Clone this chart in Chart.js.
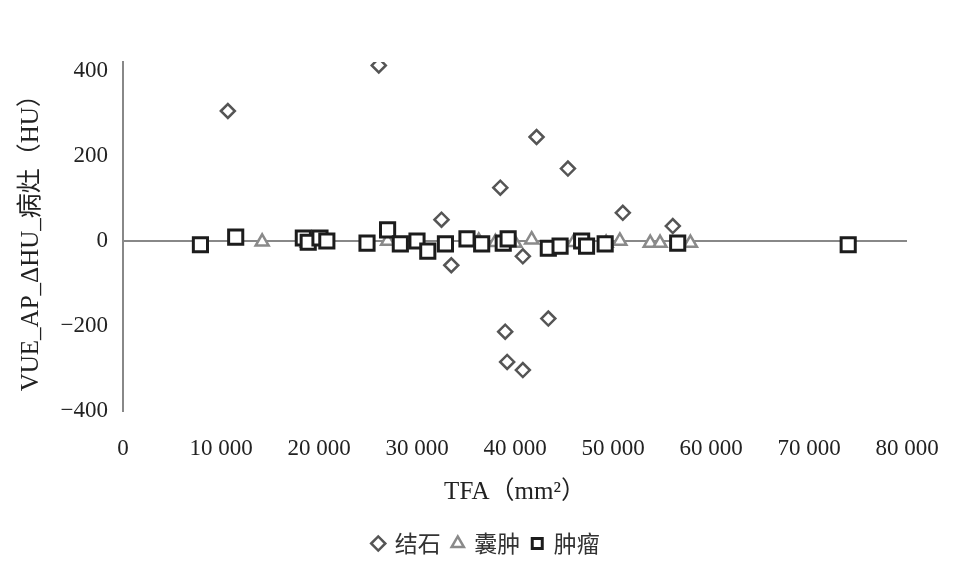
<!DOCTYPE html>
<html>
<head>
<meta charset="utf-8">
<script src="https://cdn.jsdelivr.net/npm/chart.js@4"></script>
<style>
  body { margin: 0; background: #fff; }
</style>
</head>
<body>
<canvas id="chart" width="969" height="581"></canvas>
<script>
// 结石
var stoneX = [10700, 26100, 42200, 45400, 38500, 32500, 33500, 39000, 43400, 39200, 40800, 40800, 51000, 56100];
var stoneY = [305, 412, 244, 170, 125, 50, -57, -213, -182, -284, -303, -36, 66, 35];
// 囊肿
var cystX = [14200, 18800, 27000, 36300, 38000, 40000, 41700, 46000, 49300, 50700, 53800, 54800, 57900];
var cystY = [-2, -5, 0, 0, -3, -5, 3, -3, -5, 0, -5, -5, -5];
// 肿瘤
var tumorX = [7900, 11500, 18400, 18900, 20100, 20800, 24900, 27000, 28300, 30000, 31100, 32900, 35100, 36600, 38800, 39300, 43400, 44600, 46800, 47300, 49200, 56600, 74000];
var tumorY = [-9, 9, 7, -3, 7, 0, -5, 26, -7, 0, -24, -7, 5, -7, -5, 5, -17, -12, 0, -12, -7, -5, -9];

var seriesNames = ['结石', '囊肿', '肿瘤'];
var xTicks = [0, 10000, 20000, 30000, 40000, 50000, 60000, 70000, 80000];
var yTicks = [-400, -200, 0, 200, 400];

function toPoints(xs, ys) {
    var pts = [];
    for (var i = 0; i < xs.length; i++) pts.push({x: xs[i], y: ys[i]});
    return pts;
}

var serif = '"Liberation Serif", "Noto Sans CJK SC", serif';

// legend sits a bit right of the padded area's centre in the original
var legendShift = {
    id: 'legendShift',
    afterLayout: function(chart) {
        chart.legend.left += 33;
        chart.legend.right += 33;
    }
};

var config = {
    type: 'scatter',
    data: {
        datasets: [
            {
                label: seriesNames[2],
                data: toPoints(tumorX, tumorY),
                pointStyle: 'rect',
                radius: 10,
                borderWidth: 3,
                borderColor: '#1c1c1c',
                backgroundColor: '#ffffff'
            },
            {
                label: seriesNames[1],
                data: toPoints(cystX, cystY),
                pointStyle: 'triangle',
                radius: 7.5,
                borderWidth: 2.5,
                borderColor: '#8a8a8a',
                backgroundColor: '#ffffff'
            },
            {
                label: seriesNames[0],
                data: toPoints(stoneX, stoneY),
                pointStyle: 'rectRot',
                radius: 7,
                borderWidth: 2.5,
                borderColor: '#555555',
                backgroundColor: '#ffffff'
            }
        ]
    },
    plugins: [legendShift],
    options: {
        responsive: false,
        animation: false,
        layout: {
            padding: {top: 62, right: 62, bottom: 16, left: 0}
        },
        plugins: {
            tooltip: {enabled: false},
            legend: {
                position: 'bottom',
                reverse: true,
                labels: {
                    usePointStyle: true,
                    boxWidth: 10,
                    boxHeight: 10,
                    color: '#333',
                    padding: 12,
                    font: {family: '"Noto Sans CJK SC", sans-serif', size: 23}
                }
            }
        },
        scales: {
            x: {
                type: 'linear',
                min: 0,
                max: 80000,
                border: {display: false},
                grid: {display: false, drawTicks: false},
                afterBuildTicks: function(axis) {
                    axis.ticks = xTicks.map(function(v) { return {value: v}; });
                },
                ticks: {
                    padding: 24,
                    maxRotation: 0,
                    color: '#222',
                    font: {family: serif, size: 23},
                    callback: function(v) {
                        if (v === 0) return '0';
                        return (v / 1000) + ' 000';
                    }
                },
                title: {
                    display: true,
                    text: 'TFA（mm²）',
                    color: '#222',
                    padding: {top: -10, bottom: 13},
                    font: {family: serif, size: 25}
                }
            },
            y: {
                type: 'linear',
                min: -400,
                max: 420,
                border: {display: true, color: '#888', width: 2},
                grid: {
                    drawTicks: false,
                    lineWidth: 2,
                    color: function(ctx) {
                        return ctx.tick && ctx.tick.value === 0 ? '#888' : 'rgba(0,0,0,0)';
                    }
                },
                afterBuildTicks: function(axis) {
                    axis.ticks = yTicks.map(function(v) { return {value: v}; });
                },
                afterFit: function(scale) {
                    scale.width = 123;
                },
                ticks: {
                    padding: 15,
                    color: '#222',
                    font: {family: serif, size: 23},
                    callback: function(v) {
                        return String(v).replace('-', '\u2212');
                    }
                },
                title: {
                    display: true,
                    text: 'VUE_AP_ΔHU_病灶（HU）',
                    color: '#222',
                    padding: {top: 16, bottom: 0},
                    font: {family: serif, size: 25}
                }
            }
        }
    }
};

new Chart(document.getElementById('chart'), config);
</script>
</body>
</html>
